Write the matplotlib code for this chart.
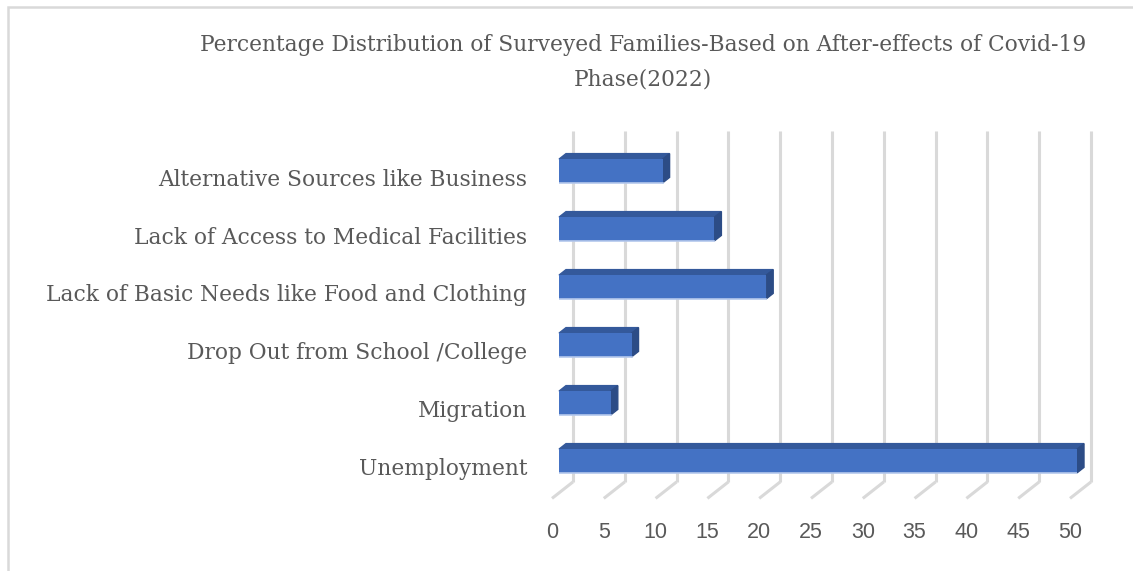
import numpy as np
import matplotlib
matplotlib.use('Agg')
import matplotlib.pyplot as plt
from matplotlib import transforms
from matplotlib.patches import Polygon, Rectangle

categories = ['Unemployment', 'Migration', 'Drop Out from School /College',
              'Lack of Basic Needs like Food and Clothing',
              'Lack of Access to Medical Facilities',
              'Alternative Sources like Business']
percent = [50, 5, 7, 20, 15, 10]
xticks = np.arange(0, 55, 5)
title = ('Percentage Distribution of Surveyed Families-Based on After-effects of Covid-19\n'
         'Phase(2022)')

W, H = 1133, 571
fig = plt.figure(figsize=(W / 100, H / 100), dpi=100)
ax = fig.add_axes([559 / W, (H - 490) / H, 518 / W, 348 / H])
ax.set_xlim(0, 50)
ax.set_ylim(-0.5, 5.5)
for s in ax.spines.values():
    s.set_visible(False)

# one step of depth, in pixels, turned into data units
ux = 518 / 50
uy = 348 / 6
dx, dy = 7 / ux, 5.5 / uy
floor = -0.55
grid_c = '#d9d9d9'

# back wall grid + floor diagonals
for v in xticks:
    ax.plot([v + 2 * dx] * 2, [floor + 2 * dy, 5.5 + 2 * dy], color=grid_c, lw=2.2,
            zorder=0, clip_on=False, solid_capstyle='butt')
    ax.plot([v + 2 * dx, v - dx], [floor + 2 * dy, floor - dy], color=grid_c, lw=2.2,
            zorder=0, clip_on=False, solid_capstyle='butt')

y = np.arange(len(categories))
h = 0.41
ax.barh(y, percent, height=h, color='#4472C4', zorder=3)
for i, v in enumerate(percent):
    top = Polygon([(0, i + h / 2), (v, i + h / 2), (v + dx, i + h / 2 + dy), (dx, i + h / 2 + dy)],
                  closed=True, color='#34599B', zorder=2, clip_on=False)
    side = Polygon([(v, i - h / 2), (v + dx, i - h / 2 + dy), (v + dx, i + h / 2 + dy), (v, i + h / 2)],
                   closed=True, color='#2C4C86', zorder=2, clip_on=False)
    ax.add_patch(top)
    ax.add_patch(side)
    ax.plot([0, v], [i - h / 2] * 2, color='#B4C8EC', lw=1.2, zorder=4)

ax.set_yticks(y, categories)
ax.tick_params(axis='y', length=0, pad=23)
for lab in ax.get_yticklabels():
    lab.set_fontfamily('DejaVu Serif')
    lab.set_fontsize(15.7)
    lab.set_color('#595959')
    lab.set_transform(lab.get_transform() + transforms.ScaledTranslation(0, -0.06, fig.dpi_scale_trans))

ax.set_xticks(xticks)
ax.tick_params(axis='x', length=0, pad=23)
for lab in ax.get_xticklabels():
    lab.set_fontfamily('Liberation Sans')
    lab.set_fontsize(15.5)
    lab.set_color('#595959')
    lab.set_transform(lab.get_transform() + transforms.ScaledTranslation(-0.07, 0, fig.dpi_scale_trans))

fig.text(643 / W, 1 - 62.5 / H, title, ha='center', va='center', multialignment='center',
         fontfamily='DejaVu Serif', fontsize=15.7, color='#595959', linespacing=1.75)

# chart frame
fig.patches.append(Rectangle((8 / W, -0.1), 1.2, 1 - 7 / H + 0.1, transform=fig.transFigure,
                             fill=False, edgecolor=grid_c, lw=1.8))

fig.savefig('out.png', dpi=100)
